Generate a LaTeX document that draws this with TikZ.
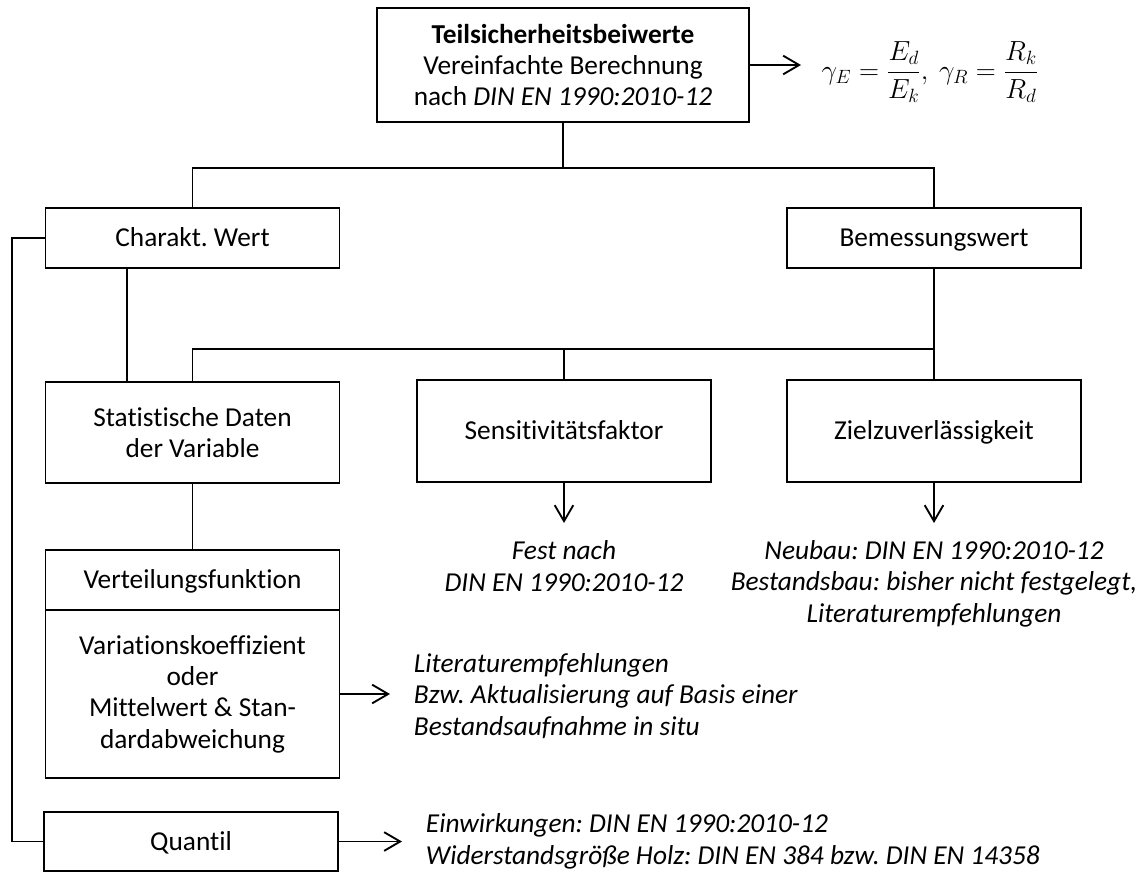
\documentclass[tikz,border=0pt]{standalone}
\usepackage{amsmath}
\usepackage{fontspec}
\setmainfont{Carlito}[Ligatures={NoCommon,NoContextual}]
\usepackage{tikz}
\usetikzlibrary{arrows.meta, calc}
\frenchspacing

\begin{document}
\begin{tikzpicture}[x=0.75pt, y=-0.75pt, line width=1.4pt,
    font=\fontsize{20.5}{23.5}\selectfont]
  \def\px{0.75pt}
  \tikzset{
    box/.style={
      draw, rectangle, inner sep=0pt, align=center,
      minimum width=294*\px, minimum height=#1*\px
    },
    box/.default=60,
    oneline/.style={text height=13.2pt, text depth=0pt},
    note/.style={align=center, inner sep=0pt,
      font=\fontsize{20.5}{23.5}\selectfont\itshape},
    arr/.style={-{Straight Barb[length=12pt, width=14pt]}}
  }
  \useasboundingbox (0,0) rectangle (1137,872);
  % boxes, placed at their centres (pixel grid, y downwards)
  \node[box=114, minimum width=372*\px] (top) at (563,65)
    {\textbf{Teilsicherheitsbeiwerte}\\Vereinfachte Berechnung\\nach \textit{DIN EN 1990:2010-12}};
  \node[box, oneline] (charakt) at (192.5,238) {Charakt. Wert};
  \node[box, oneline] (bemess) at (934,238) {Bemessungswert};
  \node[box=101] (stat) at (192.5,432.5) {Statistische Daten\\der Variable};
  \node[box=102, oneline] (sens) at (564,431) {Sensitivitätsfaktor};
  \node[box=102, oneline] (ziel) at (934,431) {Zielzuverlässigkeit};
  \node[box, oneline] (vert) at (192.5,580) {Verteilungsfunktion};
  \node[box=168] (var) at (192.5,694)
    {Variationskoeffizient\\oder\\Mittelwert \& Stan-\\dardabweichung};
  \node[box=59, oneline] (quant) at (191,841.5) {Quantil};
  % formula and notes (base = last line)
  \node (formel) at (930,72)
    {\fontsize{20}{24}\selectfont $\gamma_E=\dfrac{E_d}{E_k},\ \gamma_R=\dfrac{R_k}{R_d}$};
  \node[note, anchor=base] (fest) at (564,591) {Fest nach\\DIN EN 1990:2010-12};
  \node[note, anchor=base] (neubau) at (934,622)
    {Neubau: DIN EN 1990:2010-12\\Bestandsbau: bisher nicht festgelegt,\\Literaturempfehlungen};
  \node[note, align=left, anchor=base west] (lit) at (413,735)
    {Literaturempfehlungen\\Bzw. Aktualisierung auf Basis einer\\Bestandsaufnahme in situ};
  \node[note, align=left, anchor=base west] (einw) at (425,864)
    {Einwirkungen: DIN EN 1990:2010-12\\Widerstandsgröße Holz: DIN EN 384 bzw. DIN EN 14358};
  % junctions and free arrow ends
  \coordinate (j1) at (563,168);
  \coordinate (j2) at (564,349);
  \coordinate (lft) at (12,238);
  \coordinate (e1) at (801,65);
  \coordinate (e2) at (564,523);
  \coordinate (e3) at (934,523);
  \coordinate (e4) at (390,694);
  \coordinate (e5) at (402,841.5);
  % tree lines
  \draw (top) -- (j1);
  \draw (charakt.north) -- (charakt.north |- j1) -- (bemess.north |- j1) -- (bemess.north);
  \draw ([xshift=-65.5*\px]charakt.south) -- ([xshift=-65.5*\px]stat.north);
  \draw (stat.north) -- (stat.north |- j2) -- (bemess.south |- j2);
  \draw (sens) -- (j2);
  \draw (bemess) -- (ziel);
  \draw (stat) -- (vert);
  \draw (charakt.west) -- (lft) |- (quant.west);
  % arrows
  \foreach \from/\to in {top/e1, sens/e2, ziel/e3, var/e4, quant/e5}{
    \draw[arr] (\from) -- (\to);
  }
\end{tikzpicture}
\end{document}
